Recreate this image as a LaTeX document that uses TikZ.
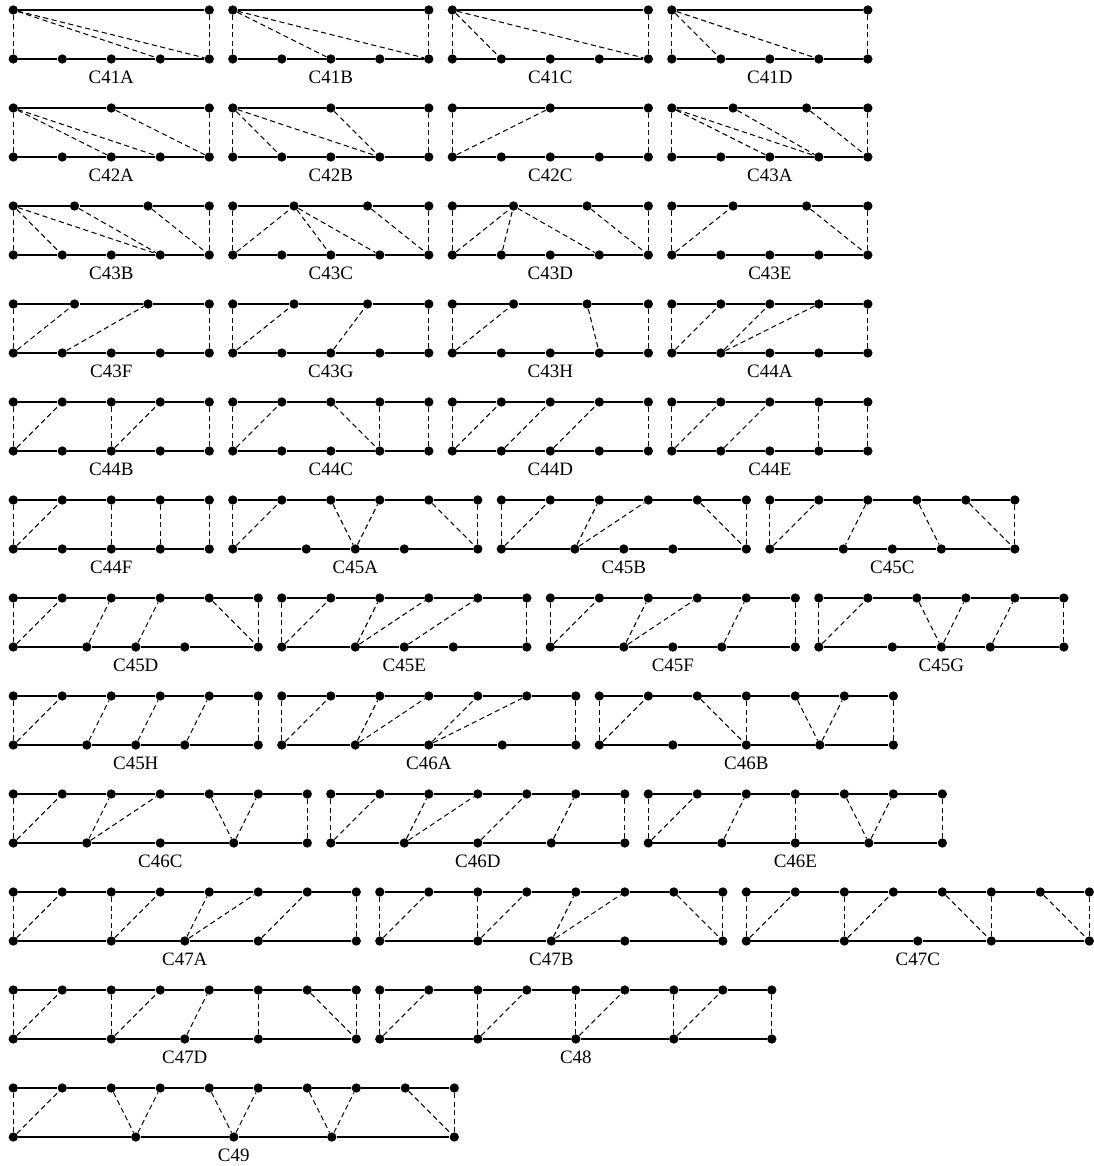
\documentclass[tikz,border=0pt]{standalone}
\usepackage{fontspec}
\setmainfont{Liberation Serif}
\usetikzlibrary{calc}

% one ladder graph: name, shift, width, top xs, bottom xs, chords
\newcommand{\ladgraph}[6]{%
  \begin{scope}[shift={#2}]
    \foreach \x [count=\i from 0] in {#4} {
      \node[vtx] (#1t\i) at (\x,0) {};
      \ifnum\i>0 \pgfmathtruncatemacro\previ{\i-1}\draw[rail] (#1t\previ) -- (#1t\i);\fi
    }
    \foreach \x [count=\i from 0] in {#5} {
      \node[vtx] (#1b\i) at (\x,-1) {};
      \ifnum\i>0 \pgfmathtruncatemacro\previ{\i-1}\draw[rail] (#1b\previ) -- (#1b\i);\fi
    }
    \foreach \u/\v in {#6} \draw[chord] (#1\u) -- (#1\v);
    \node[lab] (#1) at (#3/2,-1.37) {#1};
  \end{scope}}

\begin{document}
\begin{tikzpicture}[
    vtx/.style={circle,fill=black,inner sep=0pt,minimum size=0.19cm},
    rail/.style={line width=0.75pt},
    chord/.style={line width=0.6pt,dash pattern=on 3pt off 2pt},
    lab/.style={font=\fontsize{11}{13}\selectfont,inner sep=0pt}]
  \useasboundingbox (-0.271,0.204) rectangle (22.035,-23.592);

  % row 1
  \ladgraph{C41A}{(0,0)}{4}{0,4}{0,1,2,3,4}{t0/b0,t1/b4,t0/b3,t0/b4}
  \ladgraph{C41B}{(4.48,0)}{4}{0,4}{0,1,2,3,4}{t0/b0,t1/b4,t0/b2,t0/b4}
  \ladgraph{C41C}{(8.96,0)}{4}{0,4}{0,1,2,3,4}{t0/b0,t1/b4,t0/b1,t0/b4}
  \ladgraph{C41D}{(13.44,0)}{4}{0,4}{0,1,2,3,4}{t0/b0,t1/b4,t0/b1,t0/b3}
  % row 2
  \ladgraph{C42A}{(0,-2)}{4}{0,2,4}{0,1,2,3,4}{t0/b0,t2/b4,t0/b2,t0/b3,t1/b4}
  \ladgraph{C42B}{(4.48,-2)}{4}{0,2,4}{0,1,2,3,4}{t0/b0,t2/b4,t0/b1,t0/b3,t1/b3}
  \ladgraph{C42C}{(8.96,-2)}{4}{0,2,4}{0,1,2,3,4}{t0/b0,t2/b4,b0/t1}
  \ladgraph{C43A}{(13.44,-2)}{4}{0,1.25,2.75,4}{0,1,2,3,4}{t0/b0,t3/b4,t0/b2,t0/b3,t1/b3,t2/b4}
  % row 3
  \ladgraph{C43B}{(0,-4)}{4}{0,1.25,2.75,4}{0,1,2,3,4}{t0/b0,t3/b4,t0/b1,t0/b3,t1/b3,t2/b4}
  \ladgraph{C43C}{(4.48,-4)}{4}{0,1.25,2.75,4}{0,1,2,3,4}{t0/b0,t3/b4,b0/t1,t1/b2,t1/b3,t2/b4}
  \ladgraph{C43D}{(8.96,-4)}{4}{0,1.25,2.75,4}{0,1,2,3,4}{t0/b0,t3/b4,b0/t1,b1/t1,t1/b3,t2/b4}
  \ladgraph{C43E}{(13.44,-4)}{4}{0,1.25,2.75,4}{0,1,2,3,4}{t0/b0,t3/b4,b0/t1,t2/b4}
  % row 4
  \ladgraph{C43F}{(0,-6)}{4}{0,1.25,2.75,4}{0,1,2,3,4}{t0/b0,t3/b4,b0/t1,b1/t2}
  \ladgraph{C43G}{(4.48,-6)}{4}{0,1.25,2.75,4}{0,1,2,3,4}{t0/b0,t3/b4,b0/t1,b2/t2}
  \ladgraph{C43H}{(8.96,-6)}{4}{0,1.25,2.75,4}{0,1,2,3,4}{t0/b0,t3/b4,b0/t1,t2/b3}
  \ladgraph{C44A}{(13.44,-6)}{4}{0,1,2,3,4}{0,1,2,3,4}{t0/b0,t4/b4,b0/t1,b1/t2,b1/t3}
  % row 5
  \ladgraph{C44B}{(0,-8)}{4}{0,1,2,3,4}{0,1,2,3,4}{t0/b0,t4/b4,b0/t1,t2/b2,b2/t3}
  \ladgraph{C44C}{(4.48,-8)}{4}{0,1,2,3,4}{0,1,2,3,4}{t0/b0,t4/b4,b0/t1,t2/b3,t3/b3}
  \ladgraph{C44D}{(8.96,-8)}{4}{0,1,2,3,4}{0,1,2,3,4}{t0/b0,t4/b4,b0/t1,b1/t2,b2/t3}
  \ladgraph{C44E}{(13.44,-8)}{4}{0,1,2,3,4}{0,1,2,3,4}{t0/b0,t4/b4,b0/t1,b1/t2,t3/b3}
  % row 6
  \ladgraph{C44F}{(0,-10)}{4}{0,1,2,3,4}{0,1,2,3,4}{t0/b0,b0/t1,t2/b2,t3/b3,t4/b4}
  \ladgraph{C45A}{(4.48,-10)}{5}{0,...,5}{0,1.5,2.5,3.5,5}{t0/b0,t5/b4,b0/t1,t2/b2,b2/t3,t4/b4}
  \ladgraph{C45B}{(9.96,-10)}{5}{0,...,5}{0,1.5,2.5,3.5,5}{t0/b0,t5/b4,b0/t1,b1/t2,b1/t3,t4/b4}
  \ladgraph{C45C}{(15.44,-10)}{5}{0,...,5}{0,1.5,2.5,3.5,5}{t0/b0,t5/b4,b0/t1,t2/b1,t3/b3,t4/b4}
  % row 7
  \ladgraph{C45D}{(0,-12)}{5}{0,...,5}{0,1.5,2.5,3.5,5}{t0/b0,t5/b4,b0/t1,b1/t2,b2/t3,t4/b4}
  \ladgraph{C45E}{(5.48,-12)}{5}{0,...,5}{0,1.5,2.5,3.5,5}{t0/b0,t5/b4,b0/t1,b1/t2,b1/t3,b2/t4}
  \ladgraph{C45F}{(10.96,-12)}{5}{0,...,5}{0,1.5,2.5,3.5,5}{t0/b0,t5/b4,b0/t1,b1/t2,b1/t3,b3/t4}
  \ladgraph{C45G}{(16.44,-12)}{5}{0,...,5}{0,1.5,2.5,3.5,5}{t0/b0,t5/b4,b0/t1,t2/b2,b2/t3,b3/t4}
  % row 8
  \ladgraph{C45H}{(0,-14)}{5}{0,...,5}{0,1.5,2.5,3.5,5}{t0/b0,t5/b4,b0/t1,b1/t2,b2/t3,b3/t4}
  \ladgraph{C46A}{(5.48,-14)}{6}{0,...,6}{0,1.5,3,4.5,6}{t0/b0,t6/b4,b0/t1,b1/t2,b1/t3,b2/t4,b2/t5}
  \ladgraph{C46B}{(11.96,-14)}{6}{0,...,6}{0,1.5,3,4.5,6}{t0/b0,t6/b4,b0/t1,t2/b2,t3/b2,t4/b3,b3/t5}
  % row 9
  \ladgraph{C46C}{(0,-16)}{6}{0,...,6}{0,1.5,3,4.5,6}{t0/b0,t6/b4,b0/t1,b1/t2,b1/t3,t4/b3,b3/t5}
  \ladgraph{C46D}{(6.48,-16)}{6}{0,...,6}{0,1.5,3,4.5,6}{t0/b0,t6/b4,b0/t1,b1/t2,b1/t3,b2/t4,b3/t5}
  \ladgraph{C46E}{(12.96,-16)}{6}{0,...,6}{0,1.5,3,4.5,6}{t0/b0,t6/b4,b0/t1,b1/t2,t3/b2,t4/b3,b3/t5}
  % row 10
  \ladgraph{C47A}{(0,-18)}{7}{0,...,7}{0,2,3.5,5,7}{t0/b0,t7/b4,b0/t1,t2/b1,b1/t3,b2/t4,b2/t5,b3/t6}
  \ladgraph{C47B}{(7.48,-18)}{7}{0,...,7}{0,2,3.5,5,7}{t0/b0,t7/b4,b0/t1,t2/b1,b1/t3,b2/t4,b2/t5,t6/b4}
  \ladgraph{C47C}{(14.96,-18)}{7}{0,...,7}{0,2,3.5,5,7}{t0/b0,t7/b4,b0/t1,t2/b1,b1/t3,t4/b3,t5/b3,t6/b4}
  % row 11
  \ladgraph{C47D}{(0,-20)}{7}{0,...,7}{0,2,3.5,5,7}{t0/b0,t7/b4,b0/t1,t2/b1,b1/t3,b2/t4,t5/b3,t6/b4}
  \ladgraph{C48}{(7.48,-20)}{8}{0,...,8}{0,2,4,6,8}{t0/b0,b0/t1,t2/b1,b1/t3,t4/b2,b2/t5,t6/b3,b3/t7,t8/b4}
  % row 12
  \ladgraph{C49}{(0,-22)}{9}{0,...,9}{0,2.5,4.5,6.5,9}{t0/b0,t9/b4,b0/t1,t2/b1,b1/t3,t4/b2,b2/t5,t6/b3,b3/t7,t8/b4}
\end{tikzpicture}
\end{document}
